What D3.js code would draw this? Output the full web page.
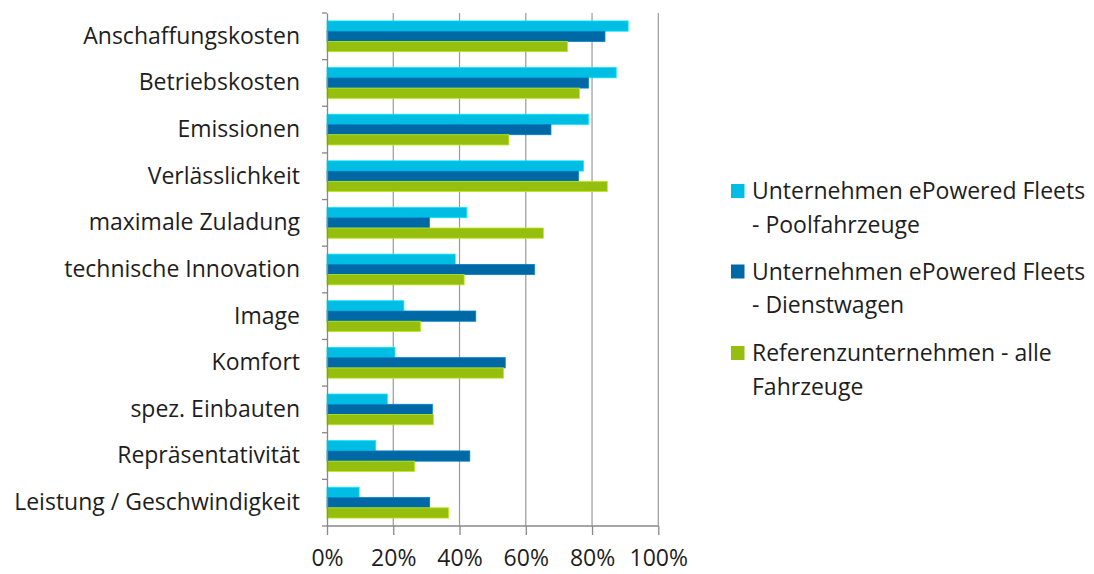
<!DOCTYPE html>
<html><head><meta charset="utf-8">
<script src="https://cdn.jsdelivr.net/npm/d3@7"></script>
<style>body{margin:0;background:#fff}svg{display:block}text{font-family:"Open Sans",sans-serif;fill:#1e1e1e}</style>
</head><body><svg id="c" width="1094" height="574"></svg>
<script>
const categories = ["Anschaffungskosten","Betriebskosten","Emissionen","Verlässlichkeit","maximale Zuladung","technische Innovation","Image","Komfort","spez. Einbauten","Repräsentativität","Leistung / Geschwindigkeit"];
const seriesNames = [["Unternehmen ePowered Fleets","- Poolfahrzeuge"],["Unternehmen ePowered Fleets","- Dienstwagen"],["Referenzunternehmen - alle","Fahrzeuge"]];
const seriesColors = ["#00BDE3","#0068A4","#96BE0F"];
const pool =      [90.9,87.3,78.9,77.4,42.2,38.7,23.2,20.5,18.2,14.7,9.7];
const dienst =    [83.9,78.9,67.6,75.9,30.9,62.6,44.9,53.8,31.8,43.1,31.0];
const referenz =  [72.6,76.2,54.9,84.6,65.3,41.4,28.2,53.3,32.1,26.4,36.7];
const xTicks = [0,20,40,60,80,100];

const seriesValues = [pool, dienst, referenz];
const svg = d3.select("#c");
const L = 327, R = 658.3, T = 13, B = 526;
const FS = "23px";
const x = d3.scaleLinear().domain([0,100]).range([L,R]);
const y = d3.scaleBand().domain(categories).range([T,B]).paddingInner(0.34).paddingOuter(0.17);
const ys = d3.scaleBand().domain([0,1,2]).range([0,y.bandwidth()]);

// gridlines
svg.append("g").selectAll("line").data(xTicks.slice(1)).join("line")
  .attr("x1",d=>x(d)).attr("x2",d=>x(d)).attr("y1",T).attr("y2",B)
  .attr("stroke","#999").attr("stroke-width",1.2);

// bars
categories.forEach((c,i)=>{
  seriesValues.forEach((vals,s)=>{
    svg.append("rect").attr("x",x(0)).attr("y",y(c)+ys(s))
      .attr("width",x(vals[i])-x(0)).attr("height",ys.bandwidth())
      .attr("fill",seriesColors[s]).attr("stroke",d3.color(seriesColors[s]).brighter(0.6)).attr("stroke-width",0.8);
  });
});

// y axis
const yAxis = d3.axisLeft(y).tickSize(0).tickPadding(27);
const gy = svg.append("g").attr("transform",`translate(${L},0)`).call(yAxis);
gy.select(".domain").attr("stroke","#888").attr("stroke-width",1.3);
gy.selectAll("text").style("font-size",FS).attr("fill","#1e1e1e");
// band boundary ticks
const bounds = d3.range(categories.length+1).map(i=>T + i*(B-T)/categories.length);
svg.append("g").selectAll("line").data(bounds).join("line")
  .attr("x1",L-5).attr("x2",L).attr("y1",d=>d).attr("y2",d=>d).attr("stroke","#888").attr("stroke-width",1.3);

// x axis
const xAxis = d3.axisBottom(x).tickValues(xTicks).tickFormat(d=>d+"%").tickSize(9).tickPadding(15);
const gx = svg.append("g").attr("transform",`translate(0,${B})`).call(xAxis);
gx.select(".domain").attr("d",`M${L},0H${R}`).attr("stroke","#888").attr("stroke-width",1.3);
gx.selectAll(".tick line").attr("stroke","#888").attr("stroke-width",1.3);
gx.selectAll("text").style("font-size",FS).attr("fill","#1e1e1e");

// legend
const lg = svg.append("g");
const legY = [191, 271.5, 353];
seriesNames.forEach((lines,s)=>{
  lg.append("rect").attr("x",731).attr("y",legY[s]-7).attr("width",13.5).attr("height",14).attr("fill",seriesColors[s]);
  lines.forEach((t,k)=>{
    lg.append("text").attr("x",752).attr("y",legY[s]+k*33.5).attr("dy","0.35em")
      .style("font-size",FS).text(t);
  });
});
</script></body></html>
